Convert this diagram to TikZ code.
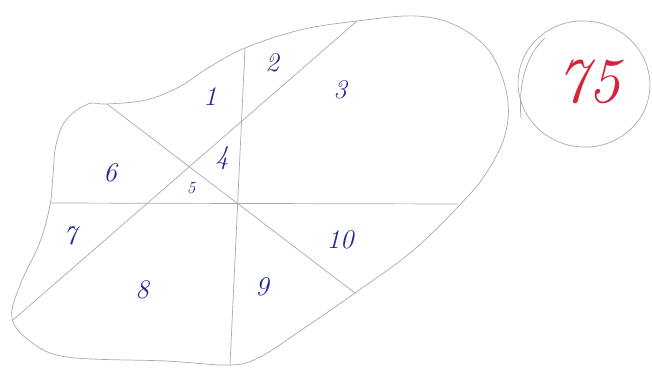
\documentclass[tikz,border=0pt]{standalone}
\usepackage{tikz}
\definecolor{ink}{RGB}{35,40,145}
\definecolor{redink}{RGB}{215,35,60}
\definecolor{pencil}{RGB}{165,170,185}
\begin{document}
\begin{tikzpicture}[x=1pt,y=-1pt,
    every node/.style={font=\fontsize{27}{27}\selectfont\itshape, text=ink},
    pen/.style={draw=pencil, line width=0.7pt}]
    \useasboundingbox (0,0) rectangle (652,367);

    % outline of the blob
    \draw[pen] plot[smooth cycle, tension=0.6] coordinates {
      (107,104) (146,100) (179,87) (208,68) (245,48) (300,30) (357,21)
      (416,16) (457,26) (490,52) (507,95) (505,135) (485,175) (455,210)
      (410,253) (355,293) (300,331) (260,357) (230,365) (166,361)
      (67,357) (30,341) (12,318) (20,285) (40,242) (50,205) (53,175)
      (56,145) (66,120) (88,104)};

    % ends of the four cuts
    \coordinate (vtop) at (245,48);
    \coordinate (vbot) at (230,365);
    \coordinate (hleft) at (50,203);
    \coordinate (hright) at (458,204);
    \coordinate (dAtop) at (107,104);
    \coordinate (dAbot) at (355,293);
    \coordinate (dBbot) at (13,320);
    \coordinate (dBtop) at (357,21);

    \draw[pen] (vtop) -- (vbot);
    \draw[pen] (hleft) -- (hright);
    \draw[pen] (dAtop) -- (dAbot);
    \draw[pen] (dBbot) -- (dBtop);

    % pieces
    \node (p1) at (210,97) {1};
    \node (p2) at (272,63) {2};
    \node (p3) at (340,90) {3};
    \node (p4) at (222,158) {4};
    \node[font=\fontsize{17}{17}\selectfont\itshape] (p5) at (191,188) {5};
    \node (p6) at (110,173) {6};
    \node (p7) at (70,236) {7};
    \node (p8) at (142,290) {8};
    \node (p9) at (262,287) {9};
    \node (p10) at (340,240) {10};

    % score
    \draw[pen, rotate around={-10:(584,84)}] (584,84) ellipse (66 and 63);
    \draw[pen] (545,38) .. controls (526,55) and (518,85) .. (521,118);
    \node[font=\fontsize{64}{64}\selectfont\itshape, text=redink] (score) at (588,82) {75};
  \end{tikzpicture}
\end{document}
